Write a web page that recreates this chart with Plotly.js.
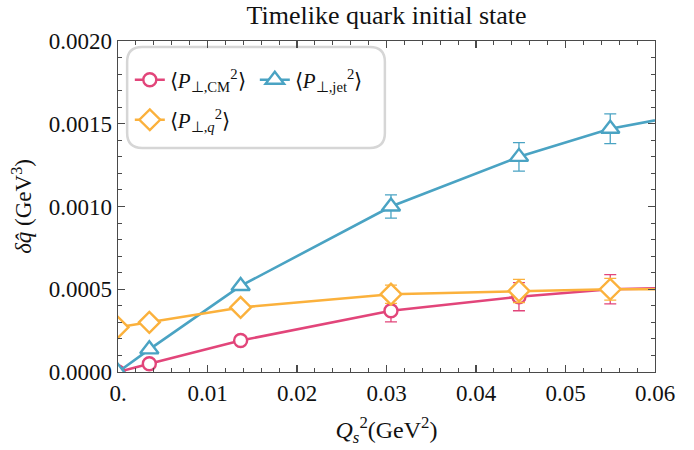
<!DOCTYPE html>
<html>
<head>
<meta charset="utf-8">
<script src="https://cdn.plot.ly/plotly-3.0.1.min.js"></script>
<style>
  body { margin: 0; background: #fff; }
  #graph { width: 694px; height: 450px; }
</style>
</head>
<body>
<div id="graph"></div>
<script>
// values (x = Qs^2 in GeV^2, y = delta qhat in GeV^3)
var qs2 = [0, 0.0035, 0.0137, 0.0305, 0.0448, 0.055, 0.065];

var cmVals = [0, 0.00005, 0.00019, 0.00037, 0.000455, 0.0005, 0.00051];
var cmErr = [0, 0, 0, 0.000067, 0.000085, 0.000088, 0];

var jetVals = [0, 0.000137, 0.00052, 0.001, 0.0013, 0.00147, 0.00157];
var jetErr = [0, 0, 0, 0.00007, 0.000086, 0.00009, 0];

var qVals = [0.00027, 0.0003, 0.00039, 0.00047, 0.00049, 0.0005, 0.0005];
var qErr = [0, 0, 0, 0.000055, 0.00007, 0.000066, 0];

var xTicks = [0, 0.01, 0.02, 0.03, 0.04, 0.05, 0.06];
var xTickText = ['0.', '0.01', '0.02', '0.03', '0.04', '0.05', '0.06'];

var pink = '#e2457a';
var teal = '#4aa3c3';
var yellow = '#fbb13c';
var serif = 'Liberation Serif, Times New Roman, serif';

function makeTrace(name, y, err, color, symbol, size, legendId) {
    return {
        x: qs2, y: y, name: name, type: 'scatter', mode: 'lines+markers',
        legend: legendId,
        line: { color: color, width: 2.6 },
        // filled symbol with white fill so lines don't show through
        marker: { symbol: symbol, size: size, color: '#fff', line: { color: color, width: 2.4 } },
        error_y: { type: 'data', array: err, visible: true, color: color, thickness: 1.3, width: 6 }
    };
}

var data = [
    makeTrace('⟨<i>P</i><sub>⊥,CM</sub><sup>2</sup>⟩', cmVals, cmErr, pink, 'circle', 13, 'legend'),
    makeTrace('⟨<i>P</i><sub>⊥,jet</sub><sup>2</sup>⟩', jetVals, jetErr, teal, 'triangle-up', 16, 'legend'),
    makeTrace('⟨<i>P</i><sub>⊥,<i>q</i></sub><sup>2</sup>⟩', qVals, qErr, yellow, 'diamond', 16, 'legend2')
];

// rounded box behind the legends (paper coords)
var bx0 = 0.017, bx1 = 0.497, by0 = 0.677, by1 = 0.982, rx = 0.028, ry = 0.045;
var boxPath = 'M' + (bx0 + rx) + ',' + by1 + ' L' + (bx1 - rx) + ',' + by1 +
    ' Q' + bx1 + ',' + by1 + ' ' + bx1 + ',' + (by1 - ry) +
    ' L' + bx1 + ',' + (by0 + ry) + ' Q' + bx1 + ',' + by0 + ' ' + (bx1 - rx) + ',' + by0 +
    ' L' + (bx0 + rx) + ',' + by0 + ' Q' + bx0 + ',' + by0 + ' ' + bx0 + ',' + (by0 + ry) +
    ' L' + bx0 + ',' + (by1 - ry) + ' Q' + bx0 + ',' + by1 + ' ' + (bx0 + rx) + ',' + by1 + ' Z';

var axisCommon = {
    showline: true, linecolor: '#4a4a4a', linewidth: 1.3, mirror: 'ticks',
    ticks: 'inside', ticklen: 7, tickwidth: 1.2, tickcolor: '#4a4a4a',
    showgrid: false, zeroline: false,
    tickfont: { family: serif, size: 23, color: '#111' }
};

var layout = {
    width: 694, height: 450,
    margin: { l: 118, r: 39, t: 41, b: 78 },
    paper_bgcolor: '#fff', plot_bgcolor: '#fff',
    font: { family: serif, color: '#111' },
    title: { text: 'Timelike quark initial state', font: { family: serif, size: 26, color: '#111' },
        x: 0.557, xanchor: 'center', y: 0.966, yanchor: 'middle' },
    xaxis: Object.assign({}, axisCommon, {
        range: [0, 0.06], tickvals: xTicks, ticktext: xTickText,
        minor: { dtick: 0.002, ticks: 'inside', ticklen: 4, tickwidth: 1, tickcolor: '#4a4a4a' },
        title: { text: '<i>Q</i><sub><i>s</i></sub><sup>2</sup>(GeV<sup>2</sup>)', font: { family: serif, size: 24, color: '#111' }, standoff: 16 }
    }),
    yaxis: Object.assign({}, axisCommon, {
        range: [0, 0.002], dtick: 0.0005, tickformat: '.4f',
        minor: { dtick: 0.0001, ticks: 'inside', ticklen: 4, tickwidth: 1, tickcolor: '#4a4a4a' },
        title: { text: '<i>δq̂</i> (GeV<sup>3</sup>)', font: { family: serif, size: 23, color: '#111' }, standoff: 10 }
    }),
    legend: {
        orientation: 'h', x: 0.022, xanchor: 'left', y: 0.882, yanchor: 'middle',
        entrywidth: 80, bgcolor: 'rgba(0,0,0,0)', font: { family: serif, size: 21, color: '#111' }
    },
    legend2: {
        orientation: 'h', x: 0.022, xanchor: 'left', y: 0.761, yanchor: 'middle',
        bgcolor: 'rgba(0,0,0,0)', font: { family: serif, size: 21, color: '#111' }
    },
    shapes: [{
        type: 'path', xref: 'paper', yref: 'paper', path: boxPath, layer: 'below',
        fillcolor: '#fff', line: { color: '#d6d6d6', width: 2.5 }
    }]
};

Plotly.newPlot('graph', data, layout, { staticPlot: true });
</script>
</body>
</html>
